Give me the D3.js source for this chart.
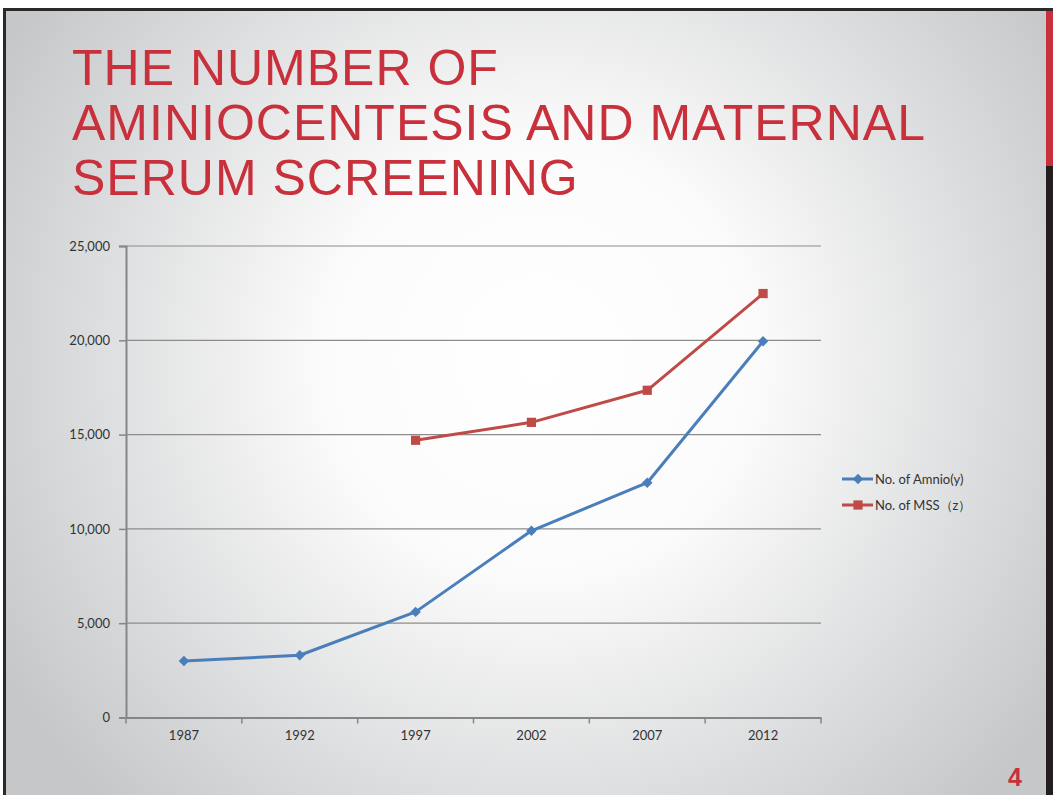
<!DOCTYPE html>
<html>
<head>
<meta charset="utf-8">
<script src="https://cdn.jsdelivr.net/npm/d3@7"></script>
<style>
  body { margin: 0; background: #fff; }
  svg { display: block; }
</style>
</head>
<body>
<svg id="chart" width="1053" height="795"></svg>
<script>
// data
var years = ["1987", "1992", "1997", "2002", "2007", "2012"]
var amnio = [3000, 3300, 5600, 9900, 12450, 19950]
var mss = [null, null, 14700, 15650, 17350, 22480]
var yTicks = [0, 5000, 10000, 15000, 20000, 25000]
var seriesNames = ["No. of Amnio(y)", "No. of MSS（z）"]
var titleLines = ["THE NUMBER OF", "AMINIOCENTESIS AND MATERNAL", "SERUM SCREENING"]

var svg = d3.select("#chart")
var W = 1053, H = 795

// slide background
var defs = svg.append("defs")
var grad = defs.append("radialGradient")
    .attr("id", "bg")
    .attr("gradientUnits", "userSpaceOnUse")
    .attr("cx", 540).attr("cy", 360).attr("r", 620)
grad.append("stop").attr("offset", "0").attr("stop-color", "#ffffff")
grad.append("stop").attr("offset", "0.35").attr("stop-color", "#fbfbfb")
grad.append("stop").attr("offset", "0.7").attr("stop-color", "#dedfe0")
grad.append("stop").attr("offset", "1").attr("stop-color", "#c6c7c9")

svg.append("rect").attr("x", 0).attr("y", 0).attr("width", W).attr("height", H).attr("fill", "#fff")
svg.append("rect").attr("x", 4).attr("y", 9).attr("width", W - 4).attr("height", H - 9).attr("fill", "url(#bg)")
// frame
svg.append("rect").attr("x", 3).attr("y", 8).attr("width", W - 3).attr("height", 3).attr("fill", "#2b2a2b")
svg.append("rect").attr("x", 3).attr("y", 8).attr("width", 3).attr("height", H - 8).attr("fill", "#2b2a2b")
svg.append("rect").attr("x", 1046).attr("y", 11).attr("width", 7).attr("height", 155).attr("fill", "#c8303c")
svg.append("rect").attr("x", 1046).attr("y", 166).attr("width", 7).attr("height", H - 166).attr("fill", "#231f20")

// title
svg.append("g").selectAll("text")
    .data(titleLines)
    .enter().append("text")
    .attr("x", 72)
    .attr("y", (d, i) => 85 + i * 55)
    .attr("fill", "#c8303c")
    .style("font-family", "'Liberation Sans', Arial, sans-serif")
    .style("font-size", "50px")
    .style("letter-spacing", "1px")
    .text(d => d)

// page number
svg.append("text")
    .attr("x", 1022).attr("y", 786)
    .attr("text-anchor", "end")
    .attr("fill", "#c8303c")
    .style("font-family", "'Liberation Sans', Arial, sans-serif")
    .style("font-weight", "bold")
    .style("font-size", "25px")
    .text("4")

var margin = { left: 126, right: 821, top: 246, bottom: 717.5 }

var x = d3.scaleBand()
    .domain(years)
    .range([margin.left, margin.right])

var y = d3.scaleLinear()
    .domain([0, 25000])
    .range([margin.bottom, margin.top])

var fontAxis = "Lato, 'Open Sans', sans-serif"

// gridlines
svg.append("g").selectAll("line")
    .data(yTicks.filter(d => d > 0))
    .enter().append("line")
    .attr("x1", margin.left).attr("x2", margin.right)
    .attr("y1", d => y(d)).attr("y2", d => y(d))
    .attr("stroke", "#8c8c8c").attr("stroke-width", 1.2)

// y axis
var yAxis = svg.append("g")
    .attr("transform", `translate(${margin.left},0)`)
    .call(d3.axisLeft(y).tickValues(yTicks).tickSize(7).tickPadding(9).tickFormat(d3.format(",")))
yAxis.select(".domain").attr("stroke", "#868686").attr("stroke-width", 2)
yAxis.selectAll(".tick line").attr("stroke", "#868686").attr("stroke-width", 1.5)
yAxis.selectAll("text").attr("fill", "#333").style("font-family", fontAxis).style("font-size", "13px")

// x axis
var xAxis = svg.append("g")
    .attr("transform", `translate(0,${margin.bottom})`)
    .call(d3.axisBottom(x).tickSize(0).tickPadding(13))
xAxis.select(".domain").attr("stroke", "#868686").attr("stroke-width", 2)
xAxis.selectAll("text").attr("fill", "#333").style("font-family", fontAxis).style("font-size", "13px")
// boundary ticks between categories
xAxis.selectAll(".sep")
    .data(d3.range(years.length + 1))
    .enter().append("line")
    .attr("class", "sep")
    .attr("x1", i => margin.left + i * x.bandwidth())
    .attr("x2", i => margin.left + i * x.bandwidth())
    .attr("y1", 0).attr("y2", 6)
    .attr("stroke", "#868686").attr("stroke-width", 1.5)

var cx = d => x(d) + x.bandwidth() / 2

var line = d3.line()
    .defined(d => d.v != null)
    .x(d => cx(d.year))
    .y(d => y(d.v))

var blue = "#4a7ebb", red = "#be4b48"

var amnioData = years.map((yr, i) => ({ year: yr, v: amnio[i] }))
var mssData = years.map((yr, i) => ({ year: yr, v: mss[i] })).filter(d => d.v != null)

svg.append("path").datum(amnioData)
    .attr("d", line).attr("fill", "none")
    .attr("stroke", blue).attr("stroke-width", 3).attr("stroke-linejoin", "round")
svg.append("path").datum(mssData)
    .attr("d", line).attr("fill", "none")
    .attr("stroke", red).attr("stroke-width", 3).attr("stroke-linejoin", "round")

var diamond = d3.symbol().type(d3.symbolDiamond2).size(70)
var square = d3.symbol().type(d3.symbolSquare).size(85)

svg.append("g").selectAll("path")
    .data(amnioData)
    .enter().append("path")
    .attr("d", diamond)
    .attr("transform", d => `translate(${cx(d.year)},${y(d.v)})`)
    .attr("fill", blue)
svg.append("g").selectAll("path")
    .data(mssData)
    .enter().append("path")
    .attr("d", square)
    .attr("transform", d => `translate(${cx(d.year)},${y(d.v)})`)
    .attr("fill", red)

// legend
var legend = svg.append("g").selectAll("g")
    .data(seriesNames)
    .enter().append("g")
    .attr("transform", (d, i) => `translate(842,${479 + i * 26})`)
legend.append("line")
    .attr("x1", 0).attr("x2", 31).attr("y1", 0).attr("y2", 0)
    .attr("stroke", (d, i) => i == 0 ? blue : red).attr("stroke-width", 3)
legend.append("path")
    .attr("d", (d, i) => i == 0 ? diamond() : square())
    .attr("transform", "translate(16,0)")
    .attr("fill", (d, i) => i == 0 ? blue : red)
legend.append("text")
    .attr("x", 33).attr("y", 0).attr("dy", "0.35em")
    .attr("fill", "#333")
    .style("font-family", fontAxis).style("font-size", "13px")
    .text(d => d)
</script>
</body>
</html>
